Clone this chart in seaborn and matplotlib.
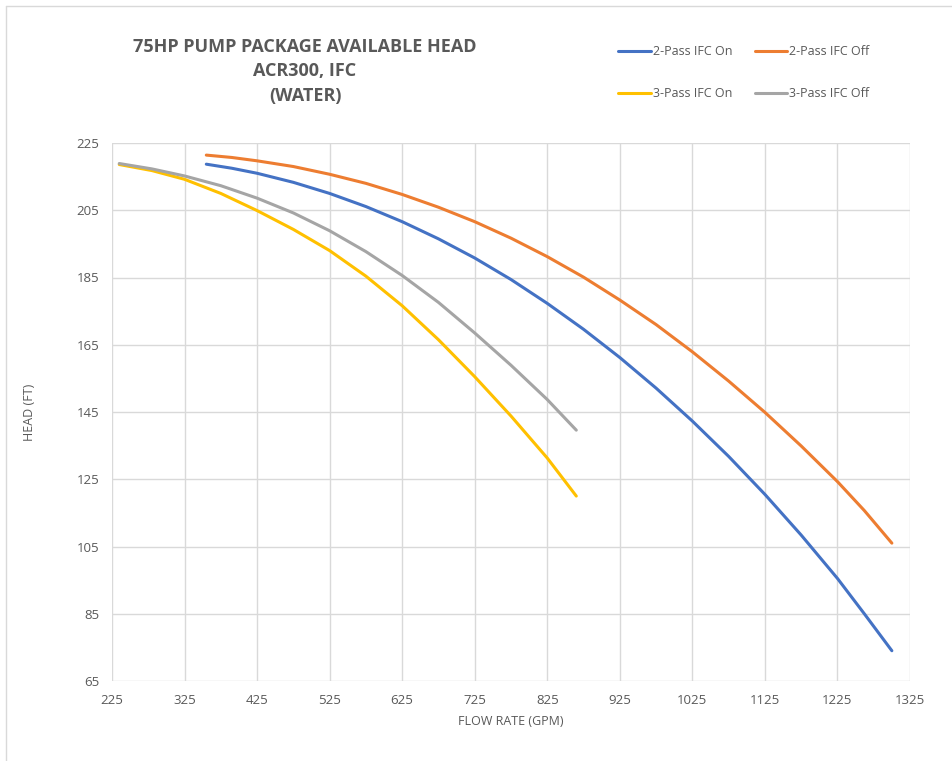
import numpy as np
import pandas as pd
import matplotlib
matplotlib.use("Agg")
import matplotlib.pyplot as plt
from matplotlib.lines import Line2D
import seaborn as sns

# flow (GPM) / head (FT)
flow_2pass = [355, 390, 425, 475, 525, 575, 625, 675, 725, 775, 825, 875, 925, 975,
              1025, 1075, 1125, 1175, 1225, 1262, 1300]
head_2pass_on = [218.7, 217.5, 216.0, 213.3, 210.0, 206.1, 201.6, 196.5, 190.8, 184.4,
                 177.3, 169.6, 161.2, 152.1, 142.3, 131.8, 120.5, 108.4, 95.5, 85.0, 74.0]
head_2pass_off = [221.4, 220.7, 219.7, 218.0, 215.7, 213.0, 209.7, 205.9, 201.6, 196.7,
                  191.2, 185.1, 178.3, 171.0, 162.9, 154.2, 144.9, 134.9, 124.3, 115.7, 106.0]

flow_3pass = [235, 280, 325, 375, 425, 475, 525, 575, 625, 675, 725, 775, 825, 865]
head_3pass_on = [218.6, 216.8, 214.2, 210.0, 204.9, 199.3, 193.0, 185.4, 176.6, 166.5,
                 155.5, 143.8, 131.3, 120.0]
head_3pass_off = [218.9, 217.3, 215.2, 212.3, 208.6, 204.2, 198.9, 192.7, 185.6, 177.6,
                  168.5, 158.9, 148.7, 139.6]

series_names = ["2-Pass IFC On", "2-Pass IFC Off", "3-Pass IFC On", "3-Pass IFC Off"]
series_colors = ["#4472C4", "#ED7D31", "#FFC000", "#A5A5A5"]

x_ticks = list(range(225, 1326, 100))
y_ticks = list(range(65, 226, 20))

title_lines = ["75HP PUMP PACKAGE AVAILABLE HEAD", "ACR300, IFC", "(WATER)"]

frames = []
for name, fl, hd in [(series_names[0], flow_2pass, head_2pass_on),
                     (series_names[1], flow_2pass, head_2pass_off),
                     (series_names[2], flow_3pass, head_3pass_on),
                     (series_names[3], flow_3pass, head_3pass_off)]:
    frames.append(pd.DataFrame({"flow": fl, "head": hd, "series": name}))
df = pd.concat(frames, ignore_index=True)

sns.set_style("white")
plt.rcParams["font.family"] = ["Open Sans", "DejaVu Sans"]
text_color = "#595959"
grid_color = "#D9D9D9"

fig = plt.figure(figsize=(9.52, 7.61), dpi=100)
ax = fig.add_axes([112 / 952, 1 - 681 / 761, 798 / 952, 538 / 761])

sns.lineplot(data=df, x="flow", y="head", hue="series", hue_order=series_names,
             palette=series_colors, linewidth=2.2, sort=False, legend=False, ax=ax)
for ln in ax.get_lines():
    ln.set_solid_joinstyle("round")
    ln.set_solid_capstyle("round")

ax.set_xlim(225, 1325)
ax.set_ylim(65, 225)
ax.set_xticks(x_ticks)
ax.set_yticks(y_ticks)
ax.grid(True, color=grid_color, linewidth=1.0)
ax.set_axisbelow(True)
for s in ax.spines.values():
    s.set_visible(False)
ax.tick_params(axis="both", length=0, labelsize=9.5, colors=text_color)
ax.tick_params(axis="x", pad=9)
ax.tick_params(axis="y", pad=9)
ax.set_xlabel("FLOW RATE (GPM)", fontsize=9, color=text_color, labelpad=6)
ax.set_ylabel("HEAD (FT)", fontsize=9, color=text_color)
ax.yaxis.set_label_coords(-(112 - 36) / 798, 0.5)

# title
for i, line in enumerate(title_lines):
    fig.text(305 / 952, 1 - (47 + i * 24.5) / 761, line, ha="center", va="center",
             fontsize=13, fontweight="bold", color=text_color)

# legend (column-major fill, so reorder to get row-major layout)
order = [0, 2, 1, 3]
handles = [Line2D([], [], color=series_colors[i], linewidth=2.2) for i in order]
labels = [series_names[i] for i in order]
fig.legend(handles, labels, loc="upper left", bbox_to_anchor=(607 / 952, 1 - 34 / 761),
           ncol=2, frameon=False, fontsize=9, labelcolor=text_color,
           handlelength=2.6, handletextpad=0.15, columnspacing=1.8, labelspacing=2.3)

# chart border
fig.add_artist(Line2D([6 / 952, 6 / 952], [0, 1 - 6 / 761], color=grid_color,
                      linewidth=1.0, transform=fig.transFigure))
fig.add_artist(Line2D([6 / 952, 1], [1 - 6 / 761, 1 - 6 / 761], color=grid_color,
                      linewidth=1.0, transform=fig.transFigure))

fig.savefig("out.png", dpi=100)
